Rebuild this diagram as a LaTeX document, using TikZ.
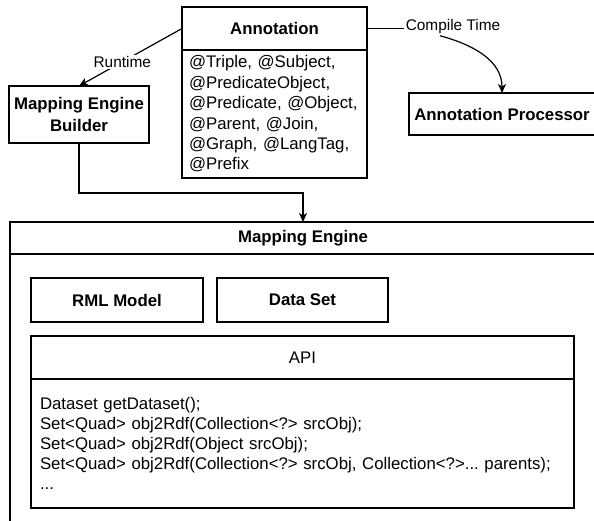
\documentclass[tikz,border=0pt]{standalone}
\usepackage{fontspec}
\setmainfont{Liberation Sans}
\usepackage{tikz}
\usetikzlibrary{calc}
\usetikzlibrary{arrows.meta}
\frenchspacing

\begin{document}
\begin{tikzpicture}[x=1pt, y=1pt, line width=1.2pt,
  box/.style={draw, rectangle, inner sep=0pt, outer sep=0pt},
  plain/.style={font=\fontsize{16.8}{20.4}\selectfont},
  heavy/.style={font=\fontsize{16.8}{20.4}\selectfont\bfseries},
  lbl/.style={font=\fontsize{15.4}{18}\selectfont, fill=white, inner sep=1pt},
  arrow/.style={-{Stealth[length=9pt, width=8pt, inset=2.5pt]}}]

\clip (0,0) rectangle (594,520);

% annotation class
\node [box, heavy, minimum width=185, minimum height=43] (annotHead) at (274.5,491.5) {Annotation};
\node [box, plain, minimum width=185, minimum height=128, text width=171, inner xsep=7pt, align=left] (annotBody) at (274.5,406)
  {@Triple, @Subject,\\@PredicateObject,\\@Predicate, @Object,\\@Parent, @Join,\\@Graph, @LangTag,\\@Prefix};

\node [box, heavy, minimum width=140, minimum height=57, align=center] (builder) at (79,405.5) {Mapping Engine\\[1.5pt]Builder};
\node [box, heavy, minimum width=186, minimum height=42] (proc) at (502,406) {Annotation Processor};

% mapping engine container
\node [box, heavy, minimum width=586, minimum height=32] (meHead) at (303,282) {Mapping Engine};
\node [box, minimum width=586, minimum height=276] (meBody) at (303,128) {};

\node [box, heavy, minimum width=172, minimum height=44] (rml) at (117,220) {RML Model};
\node [box, heavy, minimum width=171, minimum height=44] (dataset) at (302.5,220) {Data Set};

\node [box, plain, minimum width=543, minimum height=43] (apiHead) at (302.5,162.5) {API};
\node [box, plain, minimum width=543, minimum height=129, text width=525, inner xsep=9pt, align=left, font=\fontsize{16.8}{19.8}\selectfont] (apiBody) at (302.5,76.5)
  {Dataset getDataset();\\
   Set<Quad> obj2Rdf(Collection<?> srcObj);\\
   Set<Quad> obj2Rdf(Object srcObj);\\
   Set<Quad> obj2Rdf(Collection<?> srcObj, Collection<?>... parents);\\
   ...};

% connectors
\draw [arrow] (annotHead.west) -- node [lbl, pos=0.58] (runLbl) {Runtime} (builder.north);

\node [lbl] (ctime) at (453,493) {Compile Time};
\draw (annotHead.east) -- (annotHead.east -| ctime.west);
\draw [arrow] ([xshift=-13pt]ctime.south) to [out=-15, in=90] (proc.north);

\coordinate (bend) at (79,327);
\draw [arrow] (builder.south) -- (bend) -| (meHead.north);

\end{tikzpicture}
\end{document}
